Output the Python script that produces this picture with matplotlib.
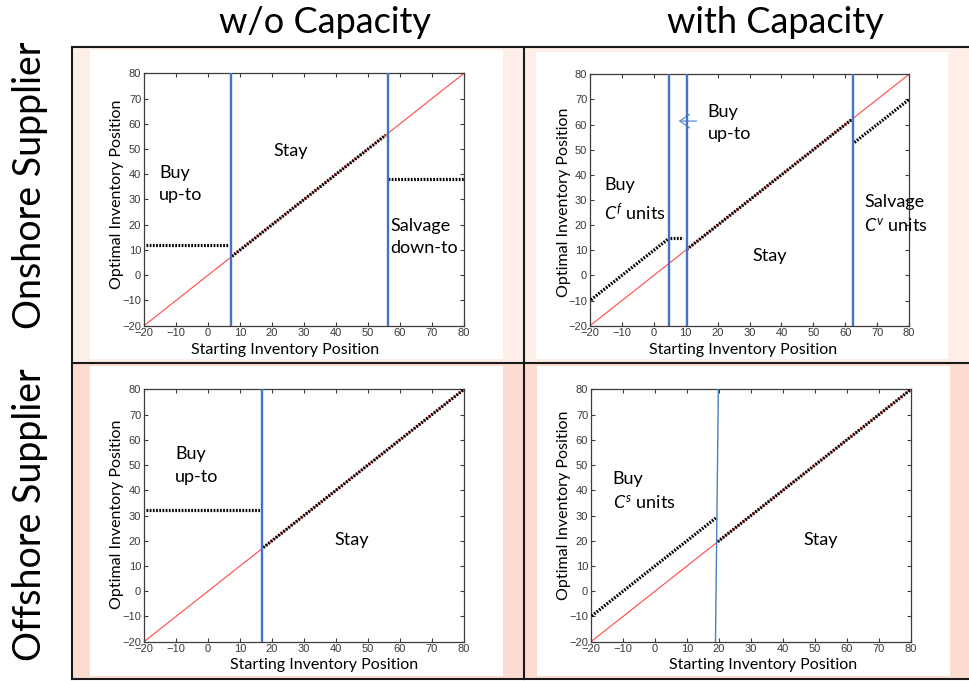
import matplotlib
matplotlib.use("Agg")
import matplotlib.pyplot as plt
from matplotlib.patches import Rectangle
from matplotlib.lines import Line2D

W, H = 969, 681

plt.rcParams["font.family"] = ["Lato", "DejaVu Sans"]
plt.rcParams["mathtext.fontset"] = "custom"
plt.rcParams["mathtext.rm"] = "Lato"
plt.rcParams["mathtext.it"] = "Lato:italic"

# ---- data ----
col_titles = ["w/o Capacity", "with Capacity"]
row_titles = ["Onshore Supplier", "Offshore Supplier"]
ticks = [-20, -10, 0, 10, 20, 30, 40, 50, 60, 70, 80]
diag = [-20, 80]

# policy segments (start, end) of the optimal inventory position
on_nocap_x = [[-19.5, 6.3], [7.5, 55.5], [56.2, 80.0]]
on_nocap_y = [[12.0, 12.0], [7.5, 55.5], [38.0, 38.0]]
on_nocap_cuts = [7.2, 56.1]

on_cap_x = [[-19.7, 4.7], [5.2, 9.3], [10.3, 62.0], [62.9, 80.0]]
on_cap_y = [[-9.7, 14.7], [15.0, 15.0], [10.3, 62.0], [52.9, 70.0]]
on_cap_cuts = [4.8, 10.3, 62.3]

off_nocap_x = [[-19.5, 16.3], [17.3, 80.0]]
off_nocap_y = [[32.0, 32.0], [17.3, 80.0]]
off_nocap_cuts = [17.0]

off_cap_x = [[-19.8, 19.0], [19.6, 80.0]]
off_cap_y = [[-9.8, 29.0], [19.6, 80.0]]
off_cap_cut_x = [18.9, 19.8]   # the cut line leans slightly
off_cap_cut_y = [-20, 80]

# region labels: (text, x, y of last baseline)
on_nocap_notes = [("Buy\nup-to", -15.2, 29.8), ("Stay", 20.4, 47.2),
                  ("Salvage\ndown-to", 57.1, 8.7)]
on_cap_notes = [("Buy\nup-to", 16.9, 54.1), ("Buy\n$C^f$ units", -15.6, 22.0),
                ("Stay", 30.9, 5.9), ("Salvage\n$C^v$ units", 65.9, 17.4)]
off_nocap_notes = [("Buy\nup-to", -10.3, 43.4), ("Stay", 39.4, 18.3)]
off_cap_notes = [("Buy\n$C^s$ units", -13.2, 32.8), ("Stay", 46.4, 18.3)]


def fx(px):
    return px / W


def fy(py):
    return 1 - py / H


fig = plt.figure(figsize=(W / 100, H / 100), dpi=100)
fig.patch.set_facecolor("white")


def rect_px(x0, y0, x1, y1, color):
    fig.patches.append(Rectangle((fx(x0), fy(y1)), fx(x1) - fx(x0), fy(y0) - fy(y1),
                                 transform=fig.transFigure, facecolor=color,
                                 edgecolor="none", zorder=-2))


top_pink = "#fdeee8"
bot_pink = "#fcdcd0"
rect_px(72, 47, 524, 363, top_pink)
rect_px(524, 47, 969, 363, top_pink)
rect_px(72, 363, 524, 679, bot_pink)
rect_px(524, 363, 969, 679, bot_pink)
rect_px(90, 50, 503, 359, "white")
rect_px(536, 52, 948, 359, "white")
rect_px(90, 366, 503, 676, "white")
rect_px(537, 366, 950, 676, "white")

for yy in [47, 363, 679]:
    fig.lines.append(Line2D([fx(72), 1], [fy(yy), fy(yy)], transform=fig.transFigure,
                            color="#1a1a1a", lw=1.5, zorder=-1))
for xx in [72, 524]:
    fig.lines.append(Line2D([fx(xx), fx(xx)], [fy(47), fy(679)], transform=fig.transFigure,
                            color="#1a1a1a", lw=1.5, zorder=-1))

fig.text(fx(325), fy(33), col_titles[0], ha="center", va="baseline", fontsize=26)
fig.text(fx(775), fy(33), col_titles[1], ha="center", va="baseline", fontsize=26)
fig.text(fx(30), fy(185), row_titles[0], ha="center", va="center", rotation=90, fontsize=27)
fig.text(fx(30), fy(515), row_titles[1], ha="center", va="center", rotation=90, fontsize=27)

panels = [
    # axes box in px (left, top, right, bottom), xlabel pos, ylabel pos (axes fraction)
    dict(box=(144, 73.3, 464, 325.7), xl=(0.442, -0.096), yl=(-0.084, 0.522),
         sx=on_nocap_x, sy=on_nocap_y, cuts=on_nocap_cuts, notes=on_nocap_notes),
    dict(box=(590, 74.3, 909, 325.7), xl=(0.48, -0.096), yl=(-0.0815, 0.49),
         sx=on_cap_x, sy=on_cap_y, cuts=on_cap_cuts, notes=on_cap_notes),
    dict(box=(144, 389.3, 464, 641.7), xl=(0.5625, -0.091), yl=(-0.083, 0.506),
         sx=off_nocap_x, sy=off_nocap_y, cuts=off_nocap_cuts, notes=off_nocap_notes),
    dict(box=(591, 389.3, 911, 641.7), xl=(0.539, -0.091), yl=(-0.084, 0.539),
         sx=off_cap_x, sy=off_cap_y, cuts=[], notes=off_cap_notes),
]

axes = []
for p in panels:
    l, t, r, b = p["box"]
    ax = fig.add_axes([fx(l), fy(b), fx(r) - fx(l), fy(t) - fy(b)])
    ax.set_facecolor("white")
    ax.set_xlim(-20, 80)
    ax.set_ylim(-20, 80)
    ax.set_xticks(ticks)
    ax.set_yticks(ticks)
    ax.tick_params(direction="in", top=True, right=True, length=3, width=0.8,
                   color="#3c3c3c", labelcolor="#3a3a3a", labelsize=8, pad=2)
    for lab in ax.get_xticklabels() + ax.get_yticklabels():
        lab.set_family(["Liberation Sans Narrow", "Liberation Sans"])
    for sp in ax.spines.values():
        sp.set_color("#3c3c3c")
        sp.set_linewidth(0.9)

    ax.plot(diag, diag, color="#ff4a4a", lw=0.8, zorder=2)
    for xs, ys in zip(p["sx"], p["sy"]):
        ax.plot(xs, ys, color="black", lw=2.3, linestyle=(0, (0.55, 0.45)), zorder=3)
    for c in p["cuts"]:
        ax.axvline(c, color="#4472c4", lw=1.7, zorder=4)
    for txt, x, y in p["notes"]:
        ax.text(x, y, txt, fontsize=13, ha="left", va="baseline", linespacing=1.5, zorder=5)

    ax.set_xlabel("Starting Inventory Position", fontsize=11.5)
    ax.xaxis.set_label_coords(*p["xl"])
    ax.xaxis.label.set_va("center")
    ax.set_ylabel("Optimal Inventory Position", fontsize=11.5)
    ax.yaxis.set_label_coords(*p["yl"])
    ax.yaxis.label.set_va("center")
    axes.append(ax)

axes[3].plot(off_cap_cut_x, off_cap_cut_y, color="#4a7fc8", lw=1.0, zorder=4)
axes[1].annotate("", xy=(7.8, 61.4), xytext=(13.4, 61.4),
                 arrowprops=dict(arrowstyle="->,head_length=0.5,head_width=0.35",
                                 color="#5b8bd0", lw=0.9,
                                 shrinkA=0, shrinkB=0, mutation_scale=14))

fig.savefig("out.png", dpi=100)
